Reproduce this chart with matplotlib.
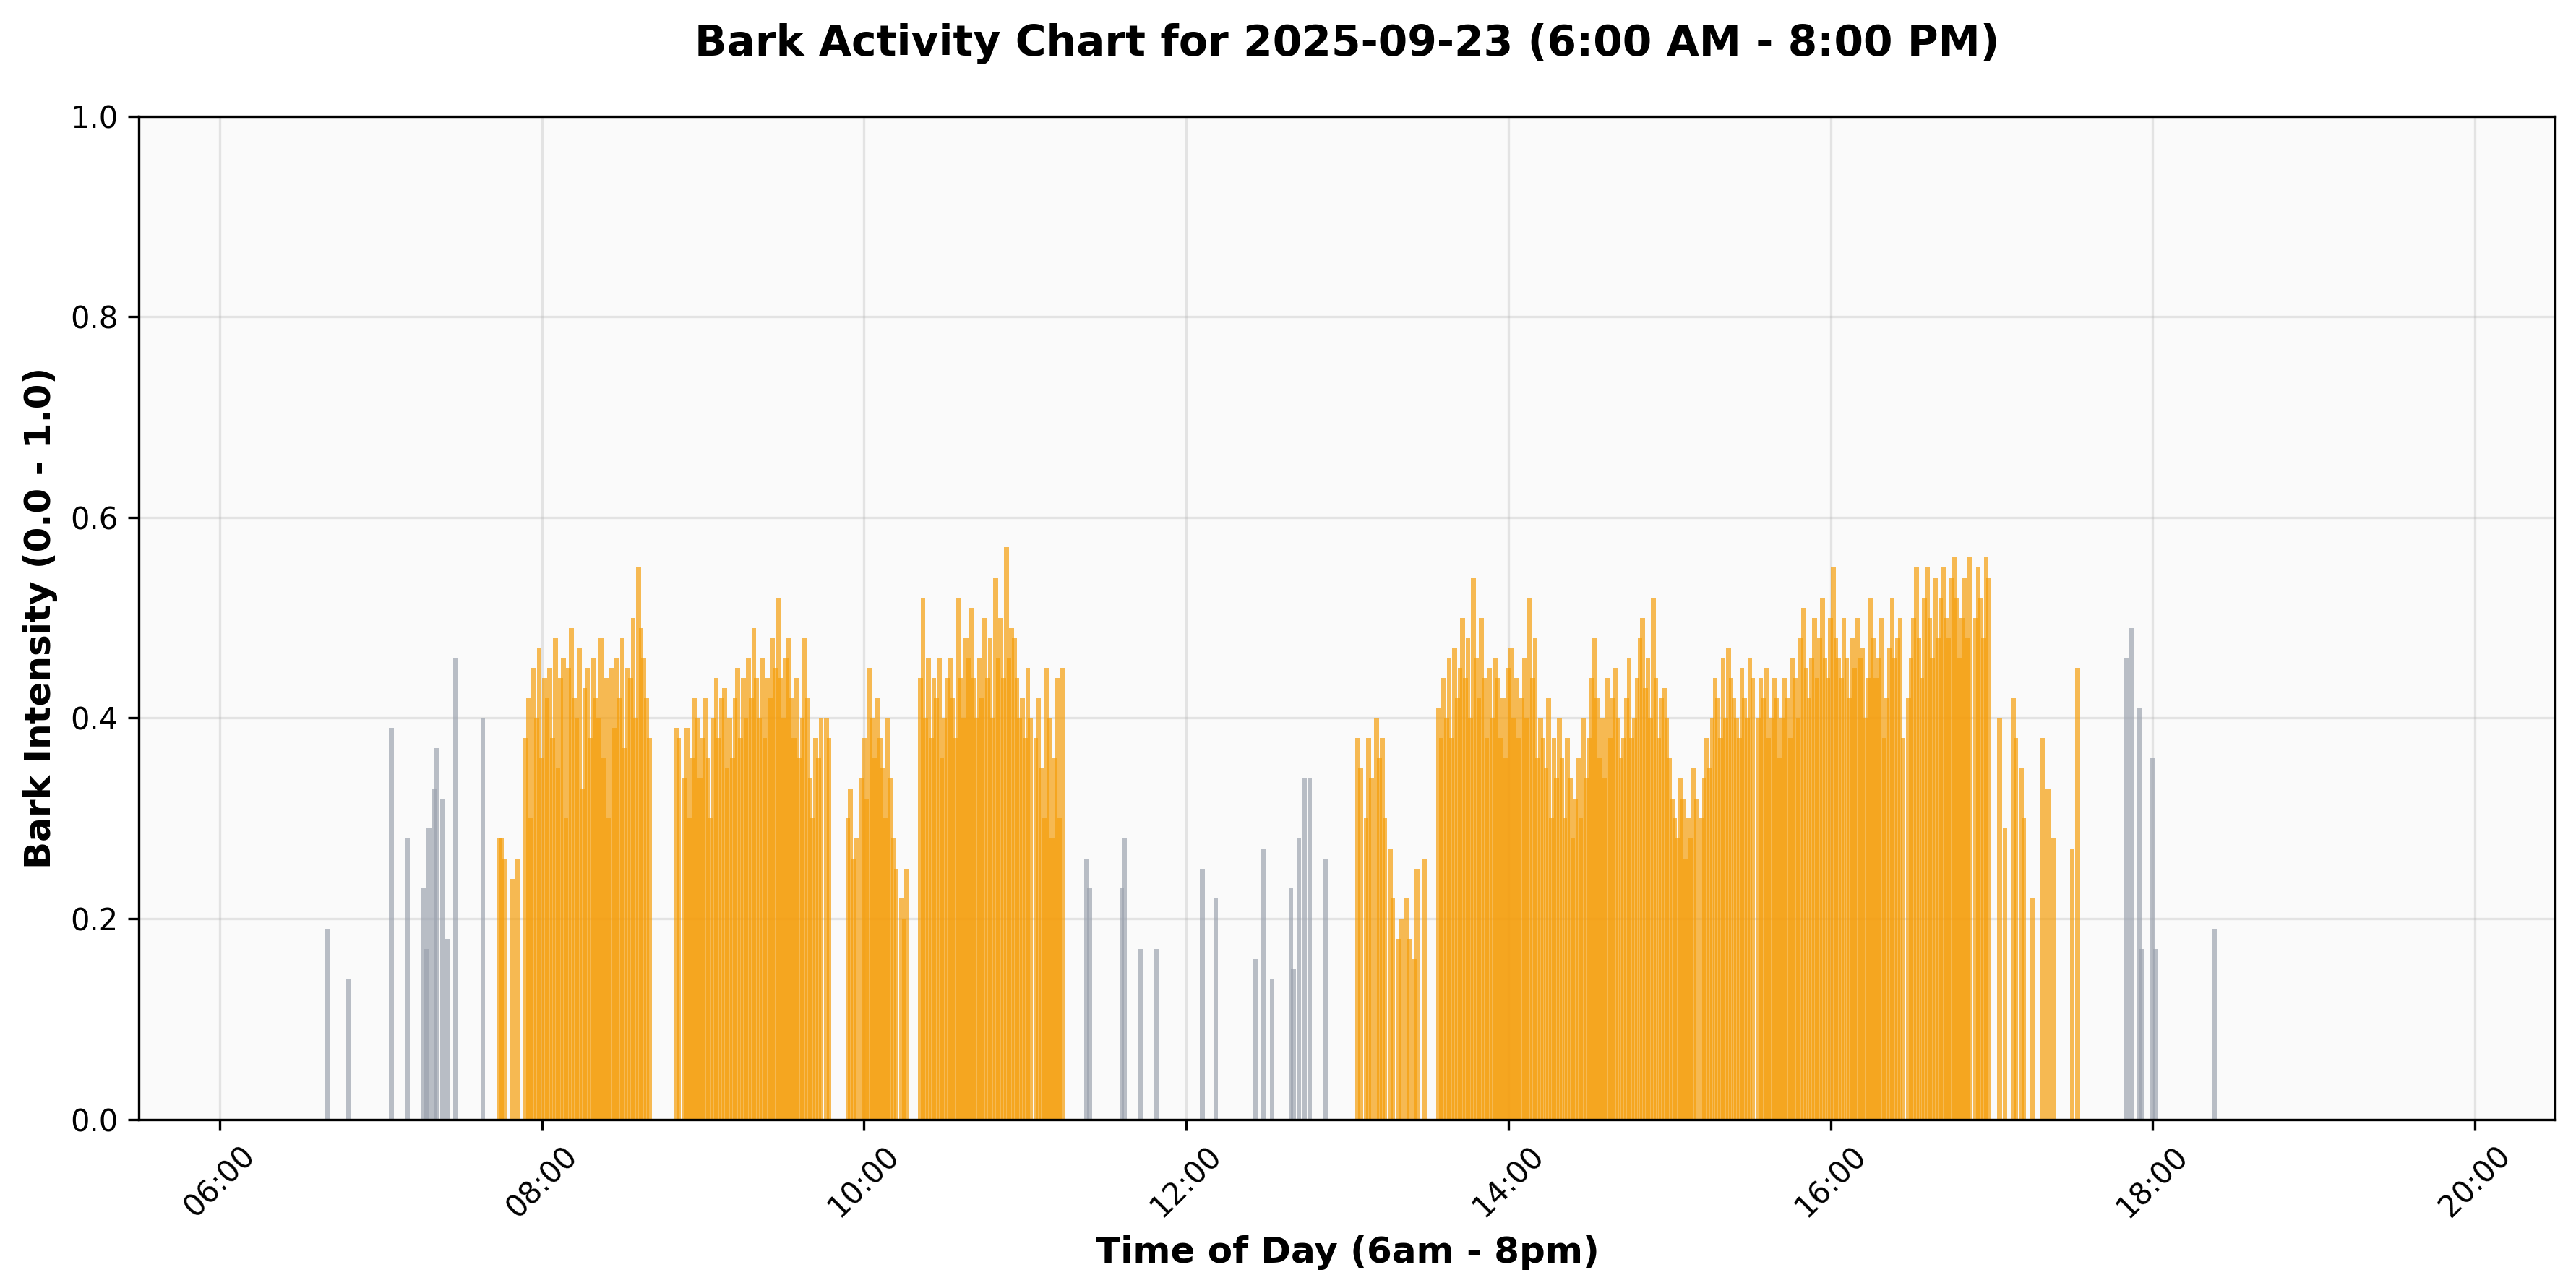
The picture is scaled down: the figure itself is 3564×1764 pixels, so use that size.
import matplotlib.pyplot as plt
import numpy as np

# minutes after 06:00 and intensity for isolated (grey) barks
grey_minutes = [40, 48, 64, 70, 76, 77, 78, 80, 81, 83, 85, 88, 98,
                323, 324, 336, 337, 343, 349, 366, 371, 386, 389, 392,
                399, 400, 402, 404, 406, 412,
                710, 712, 715, 716, 720, 721, 743]
grey_values = [0.19, 0.14, 0.39, 0.28, 0.23, 0.17, 0.29, 0.33, 0.37, 0.32, 0.18, 0.46, 0.40,
               0.26, 0.23, 0.23, 0.28, 0.17, 0.17, 0.25, 0.22, 0.16, 0.27, 0.14,
               0.23, 0.15, 0.28, 0.34, 0.34, 0.26,
               0.46, 0.49, 0.41, 0.17, 0.36, 0.17, 0.19]

# sustained barking episodes: start minute, then one value per minute (hundredths, 0 = none)
episodes = [
    (104, [28, 28, 26, 0, 0, 24, 0, 26, 0, 0,
           38, 42, 30, 45, 40, 47, 36, 44, 42, 45,
           38, 48, 35, 44, 46, 30, 45, 49, 42, 40,
           47, 33, 43, 45, 38, 46, 42, 40, 48, 36,
           44, 30, 45, 39, 46, 42, 48, 37, 45, 44,
           50, 40, 55, 49, 46, 42, 38]),
    (170, [39, 38, 0, 34, 39, 30, 36, 42, 40, 34,
           38, 42, 36, 30, 40, 44, 38, 42, 43, 35,
           40, 36, 42, 45, 38, 44, 40, 46, 42, 49,
           44, 40, 46, 38, 44, 42, 48, 45, 52, 44,
           40, 46, 48, 42, 38, 44, 36, 40, 48, 42,
           34, 30, 38, 36, 40, 0, 40, 38]),
    (234, [30, 33, 26, 28, 0, 34, 38, 32, 45, 40, 36, 42, 38, 35, 30, 40, 34, 28, 25, 0,
           22, 20, 25]),
    (261, [44, 52, 40, 46, 38, 44, 42, 46, 36, 40,
           44, 46, 42, 38, 52, 44, 40, 48, 46, 51,
           44, 40, 46, 42, 50, 44, 48, 40, 54, 46,
           50, 44, 57, 46, 49, 48, 44, 40, 42, 38,
           45, 40, 0, 38, 42, 35, 30, 45, 40, 28,
           36, 44, 30, 45]),
    (424, [38, 35, 0, 30, 38, 34, 0, 40, 36, 38,
           30, 0, 27, 22, 0, 18, 20, 0, 22, 18,
           0, 16, 25, 0, 0, 26, 0, 0, 0, 0,
           41, 38, 44, 40, 46, 38, 47, 42, 45, 50,
           44, 48, 40, 54, 46, 42, 50, 44, 38, 45,
           40, 46, 44, 38, 42, 36, 45, 47, 40, 44,
           38, 42, 46, 40, 52, 44, 48, 36, 40, 38,
           35, 42, 30, 38, 34, 40, 36, 30, 38, 34,
           28, 32, 36, 30, 40, 34, 38, 44, 48, 42,
           36, 40, 34, 44, 38, 42, 45, 40, 36, 38,
           42, 46, 38, 40, 44, 48, 50, 43, 46, 40,
           52, 44, 38, 42, 43, 40, 36, 32, 30, 28,
           34, 32, 26, 30, 28, 35, 32, 0, 30, 34,
           38, 35, 40, 44, 42, 38, 46, 40, 47, 44,
           42, 40, 38, 45, 42, 40, 46, 44, 0, 40,
           44, 42, 45, 38, 40, 44, 42, 36, 40, 44,
           42, 38, 46, 44, 40, 48, 51, 45, 42, 46,
           50, 44, 48, 52, 46, 44, 50, 55, 48, 46,
           44, 50, 46, 42, 48, 45, 50, 46, 47, 40,
           44, 52, 48, 44, 46, 50, 38, 42, 47, 52,
           46, 48, 50, 38, 0, 42, 46, 50, 55, 48,
           44, 52, 55, 50, 46, 54, 48, 52, 55, 50,
           48, 54, 56, 52, 46, 50, 54, 48, 56, 0,
           50, 55, 52, 48, 56, 54]),
    (663, [40, 0, 29, 0, 0, 42, 38, 0, 35, 30,
           0, 0, 22, 0, 0, 0, 38, 0, 33, 0,
           28, 0, 0, 0, 0, 0, 0, 27, 0, 45]),
]

tick_minutes = [0, 120, 240, 360, 480, 600, 720, 840]
tick_labels = ['06:00', '08:00', '10:00', '12:00', '14:00', '16:00', '18:00', '20:00']

orange_minutes = []
orange_values = []
for start, vals in episodes:
    for i, v in enumerate(vals):
        if v > 0:
            orange_minutes.append(start + i)
            orange_values.append(v / 100)

fig = plt.figure(figsize=(11.88, 5.88), dpi=300)
ax = fig.add_axes([0.054, 0.122, 0.938, 0.787])
ax.set_facecolor('#fafafa')
ax.bar(grey_minutes, grey_values, width=1.8, color='#9ca3af', alpha=0.7, zorder=2)
ax.bar(orange_minutes, orange_values, width=1.8, color='#f59e0b', alpha=0.7, zorder=2)

ax.set_xlim(-30, 870)
ax.set_ylim(0, 1.0)
ax.set_xticks(tick_minutes)
ax.set_xticklabels(tick_labels, rotation=45)
ax.grid(True, alpha=0.3, zorder=0)
ax.set_xlabel('Time of Day (6am - 8pm)', fontsize=12, fontweight='bold')
ax.set_ylabel('Bark Intensity (0.0 - 1.0)', fontsize=12, fontweight='bold')
ax.set_title('Bark Activity Chart for 2025-09-23 (6:00 AM - 8:00 PM)',
             fontsize=14, fontweight='bold', pad=20)
fig.savefig('out.png', dpi=300)
